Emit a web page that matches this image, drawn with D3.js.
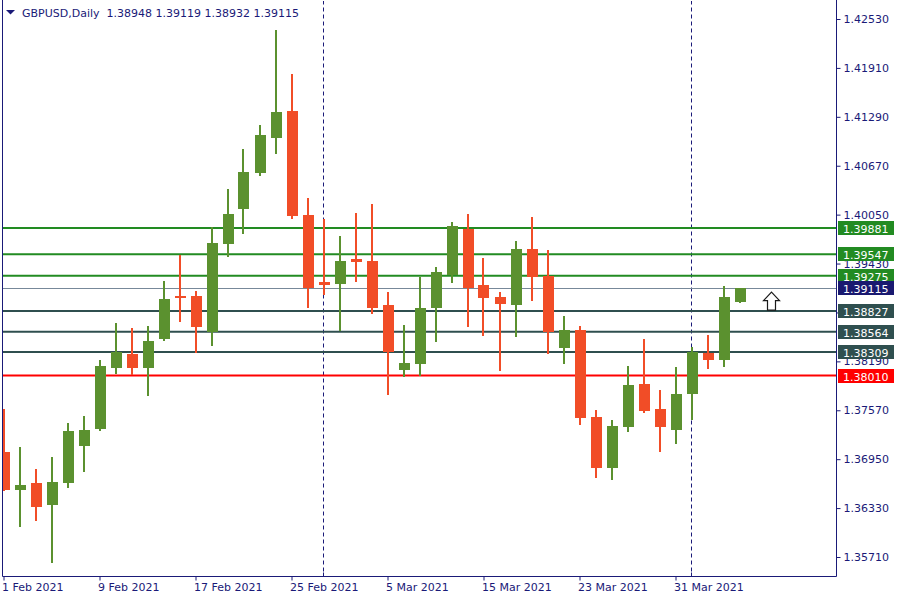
<!DOCTYPE html>
<html>
<head>
<meta charset="utf-8">
<script src="https://cdn.jsdelivr.net/npm/d3@7"></script>
<style>
  html, body { margin: 0; padding: 0; background: #ffffff; }
  svg { display: block; }
  text { font-family: "DejaVu Sans", sans-serif; font-size: 11px; }
</style>
</head>
<body>
<svg id="chart" width="900" height="600"></svg>
<script>
// ---------- DATA ----------
const symbolTitle = "GBPUSD,Daily";
const dates = [
  "2021-02-01","2021-02-02","2021-02-03","2021-02-04","2021-02-05","2021-02-08","2021-02-09","2021-02-10",
  "2021-02-11","2021-02-12","2021-02-15","2021-02-16","2021-02-17","2021-02-18","2021-02-19","2021-02-22",
  "2021-02-23","2021-02-24","2021-02-25","2021-02-26","2021-03-01","2021-03-02","2021-03-03","2021-03-04",
  "2021-03-05","2021-03-08","2021-03-09","2021-03-10","2021-03-11","2021-03-12","2021-03-15","2021-03-16",
  "2021-03-17","2021-03-18","2021-03-19","2021-03-22","2021-03-23","2021-03-24","2021-03-25","2021-03-26",
  "2021-03-29","2021-03-30","2021-03-31","2021-04-01","2021-04-02","2021-04-05","2021-04-06"
];
const opens = [
  1.37041,1.36563,1.36648,1.36373,1.36652,1.37121,1.37336,1.38110,
  1.38283,1.38110,1.38477,1.39018,1.39018,1.38566,1.39682,1.40125,
  1.40582,1.41025,1.41364,1.40045,1.39196,1.39174,1.39488,1.39462,
  1.38904,1.38084,1.38160,1.38870,1.39289,1.39868,1.39158,1.39006,
  1.38908,1.39614,1.39272,1.38363,1.38588,1.37485,1.36842,1.37362,
  1.37903,1.37586,1.37324,1.37780,1.38296,1.38211,1.38948
];
const highs = [
  1.37582,1.37104,1.36825,1.36978,1.37409,1.37497,1.38207,1.38676,
  1.38613,1.38638,1.39209,1.39542,1.39082,1.39889,1.40375,1.40882,
  1.41186,1.42391,1.41833,1.40261,1.39998,1.39779,1.40071,1.40185,
  1.39069,1.38651,1.39259,1.39386,1.39957,1.40058,1.39500,1.39069,
  1.39716,1.40020,1.39602,1.38765,1.38638,1.37573,1.37447,1.38131,
  1.38473,1.37827,1.38118,1.38372,1.38524,1.39145,1.39119
];
const lows = [
  1.36547,1.36094,1.36170,1.35638,1.36588,1.36791,1.37311,1.38034,
  1.38017,1.37755,1.38452,1.38693,1.38292,1.38388,1.39517,1.39808,
  1.40544,1.40822,1.39998,1.38870,1.39035,1.38571,1.39200,1.38794,
  1.37767,1.37995,1.38008,1.38439,1.39187,1.38629,1.38515,1.38072,
  1.38503,1.38959,1.38287,1.38156,1.37383,1.36715,1.36690,1.37298,
  1.37539,1.37045,1.37146,1.37450,1.38097,1.38122,1.38932
];
const closes = [
  1.36559,1.36622,1.36347,1.36661,1.37307,1.37320,1.38131,1.38309,
  1.38110,1.38448,1.38980,1.38997,1.38629,1.39690,1.40058,1.40590,
  1.41059,1.41351,1.40036,1.39116,1.39162,1.39462,1.39453,1.38870,
  1.38312,1.38169,1.38866,1.39323,1.39906,1.39124,1.38997,1.38921,
  1.39614,1.39263,1.38566,1.38588,1.37476,1.36842,1.37370,1.37890,
  1.37561,1.37362,1.37776,1.38309,1.38211,1.39006,1.39115
];
const priceTicks = [1.42530,1.41910,1.41290,1.40670,1.40050,1.39430,1.38810,1.38190,1.37570,1.36950,1.36330,1.35710];
const dateTickIndex = [0,6,12,18,24,30,36,42];
const levelValues = [1.39881,1.39547,1.39275,1.38827,1.38564,1.38309,1.38010];
const levelColors = ["#228b22","#228b22","#228b22","#2f4f4f","#2f4f4f","#2f4f4f","#ff0000"];
const arrowIndex = 48;
const arrowPrice = 1.38827;

// ---------- STYLE ----------
const navy = "#1a1a78";
const bullColor = "#5b912f";
const bearColor = "#f14d27";
const bidColor = "#778899";
const bidLabelColor = "#191970";

// ---------- SCALES ----------
const plotLeft = 2.5, plotRight = 836.5, plotBottom = 576.5, plotTop = 0.5;
const x = d3.scaleLinear().domain([0, 52]).range([3.5, 835.5]);
const y = d3.scaleLinear().domain([1.35710, 1.42530]).range([557, 19]);

const svg = d3.select("#chart");
svg.append("rect").attr("width", 900).attr("height", 600).attr("fill", "#fff");

svg.append("defs").append("clipPath").attr("id", "plotClip")
  .append("rect").attr("x", 3).attr("y", 1).attr("width", plotRight - 3.5).attr("height", plotBottom - 1.5);

const plot = svg.append("g").attr("clip-path", "url(#plotClip)");

// period separators (first bar of each new month)
const parse = d3.timeParse("%Y-%m-%d");
const parsed = dates.map(parse);
const sepIdx = parsed.map((d, i) => i).filter(i => i > 0 && parsed[i].getMonth() !== parsed[i - 1].getMonth());
plot.selectAll("line.sep").data(sepIdx).join("line")
  .attr("class", "sep")
  .attr("x1", i => Math.round(x(i)) - 0.5).attr("x2", i => Math.round(x(i)) - 0.5)
  .attr("y1", plotTop).attr("y2", plotBottom)
  .attr("stroke", navy).attr("stroke-width", 1).attr("stroke-dasharray", "4,3");

// horizontal levels
plot.selectAll("line.lvl").data(levelValues).join("line")
  .attr("class", "lvl")
  .attr("x1", plotLeft).attr("x2", plotRight)
  .attr("y1", d => y(d)).attr("y2", d => y(d))
  .attr("stroke", (d, i) => levelColors[i]).attr("stroke-width", 2);

// bid line
const bid = closes[closes.length - 1];
plot.append("line")
  .attr("x1", plotLeft).attr("x2", plotRight)
  .attr("y1", Math.round(y(bid)) + 0.5).attr("y2", Math.round(y(bid)) + 0.5)
  .attr("stroke", bidColor).attr("stroke-width", 1);

// candles
const idx = d3.range(dates.length);
const cg = plot.append("g").attr("shape-rendering", "crispEdges");
cg.selectAll("rect.wick").data(idx).join("rect")
  .attr("class", "wick")
  .attr("x", i => Math.round(x(i)) - 1)
  .attr("width", 2)
  .attr("y", i => Math.round(y(highs[i])))
  .attr("height", i => Math.max(1, Math.round(y(lows[i])) - Math.round(y(highs[i]))))
  .attr("fill", i => closes[i] >= opens[i] ? bullColor : bearColor);
cg.selectAll("rect.body").data(idx).join("rect")
  .attr("class", "body")
  .attr("x", i => Math.round(x(i)) - 5.5 + 0.5)
  .attr("width", 11)
  .attr("y", i => Math.round(y(Math.max(opens[i], closes[i]))))
  .attr("height", i => Math.max(2, Math.round(y(Math.min(opens[i], closes[i]))) - Math.round(y(Math.max(opens[i], closes[i])))))
  .attr("fill", i => closes[i] >= opens[i] ? bullColor : bearColor);

// buy arrow
const ax = x(arrowIndex), ay = y(arrowPrice);
const arrowPath = d3.path();
arrowPath.moveTo(ax, ay - 19);
arrowPath.lineTo(ax + 8, ay - 10.5);
arrowPath.lineTo(ax + 4, ay - 10.5);
arrowPath.lineTo(ax + 4, ay - 1);
arrowPath.lineTo(ax - 4, ay - 1);
arrowPath.lineTo(ax - 4, ay - 10.5);
arrowPath.lineTo(ax - 8, ay - 10.5);
arrowPath.closePath();
svg.append("path").attr("d", arrowPath.toString())
  .attr("fill", "#ffffff").attr("stroke", "#1a1a1a").attr("stroke-width", 1.2);

// frame
const frame = svg.append("g").attr("stroke", navy).attr("stroke-width", 1).attr("fill", "none");
frame.append("line").attr("x1", plotLeft).attr("x2", plotLeft).attr("y1", 0).attr("y2", plotBottom);
frame.append("line").attr("x1", plotRight).attr("x2", plotRight).attr("y1", 0).attr("y2", plotBottom);
frame.append("line").attr("x1", plotLeft).attr("x2", plotRight).attr("y1", plotBottom).attr("y2", plotBottom);

// separator marks on the time axis
frame.selectAll("line.sm").data(sepIdx).join("line")
  .attr("x1", i => Math.round(x(i)) - 0.5).attr("x2", i => Math.round(x(i)) - 0.5)
  .attr("y1", plotBottom - 4).attr("y2", plotBottom);

// right price axis
const yAxis = d3.axisRight(y).tickValues(priceTicks).tickFormat(d3.format(".5f")).tickSize(4).tickPadding(3);
const yg = svg.append("g").attr("transform", `translate(${plotRight},0)`).call(yAxis);
yg.select(".domain").remove();
yg.selectAll("line").attr("stroke", navy);
yg.selectAll("text").attr("fill", navy).style("font-family", "DejaVu Sans").style("font-size", "11px");

// bottom date axis
const fmt = d3.timeFormat("%-d %b %Y");
const xAxis = d3.axisBottom(x).tickValues(dateTickIndex).tickFormat(i => fmt(parsed[i])).tickSize(4).tickPadding(3);
const xg = svg.append("g").attr("transform", `translate(0,${plotBottom})`).call(xAxis);
xg.select(".domain").remove();
xg.selectAll("line").attr("stroke", navy);
xg.selectAll("text").attr("fill", navy).attr("text-anchor", "start").attr("x", -2)
  .style("font-family", "DejaVu Sans").style("font-size", "11px");

// price labels for levels
const labels = levelValues.map((v, i) => ({ v, c: levelColors[i] })).concat([{ v: bid, c: bidLabelColor }]);
const lg = svg.append("g");
lg.selectAll("rect").data(labels).join("rect")
  .attr("x", 838).attr("width", 56)
  .attr("y", d => Math.round(y(d.v)) - 7).attr("height", 14)
  .attr("fill", d => d.c);
lg.selectAll("text").data(labels).join("text")
  .attr("x", 843).attr("y", d => Math.round(y(d.v)) + 4.5)
  .attr("fill", "#ffffff")
  .text(d => d3.format(".5f")(d.v));

// header
const last = dates.length - 1;
svg.append("path").attr("d", "M6,10 L15,10 L10.5,14.5 Z").attr("fill", navy);
svg.append("text").attr("x", 22).attr("y", 17).attr("fill", navy)
  .attr("xml:space", "preserve").style("white-space", "pre")
  .text(`${symbolTitle}  ${[opens[last], highs[last], lows[last], closes[last]].map(d3.format(".5f")).join(" ")}`);
</script>
</body>
</html>
